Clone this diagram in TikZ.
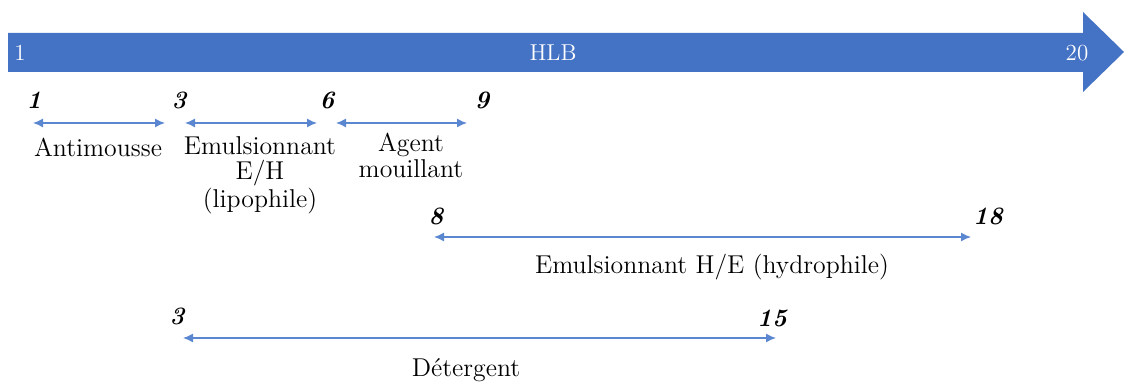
\documentclass[tikz,border=0pt]{standalone}
\usetikzlibrary{arrows.meta}
\definecolor{hlbblue}{HTML}{4472C4}
\definecolor{lineblue}{HTML}{5B87D0}
\begin{document}
\begin{tikzpicture}[x=0.5pt,y=-0.5pt,
  num/.style={font=\fontsize{12.5}{14}\selectfont\bfseries\itshape, inner sep=0pt},
  inlab/.style={font=\fontsize{11.5}{13}\selectfont, text=white, inner sep=0pt},
  lab/.style={font=\fontsize{12.9}{12.8}\selectfont, inner sep=0pt, align=center},
  hlbrange/.style={draw=lineblue, line width=0.7pt, {Latex[length=5pt,width=4.5pt]}-{Latex[length=5pt,width=4.5pt]}}]
\useasboundingbox (0,0) rectangle (1124,383);
% big arrow
\fill[hlbblue] (8,33) -- (1083,33) -- (1083,12) -- (1124,52) -- (1083,92) -- (1083,72) -- (8,72) -- cycle;
\node[inlab] (a1) at (20,53) {1};
\node[inlab] (ahlb) at (553,53) {HLB};
\node[inlab] (a20) at (1077,53) {20};
% top ranges
\node[num] (n1) at (34,100) {1};
\node[num] (n3) at (179,100) {3};
\node[num] (n6) at (327,100) {6};
\node[num] (n9) at (482,100) {9};
\coordinate (r1a) at (33,123); \coordinate (r1b) at (165,123);
\coordinate (r2a) at (185,123); \coordinate (r2b) at (317,123);
\coordinate (r3a) at (336,123); \coordinate (r3b) at (467,123);
\draw[hlbrange] (r1a) -- (r1b);
\draw[hlbrange] (r2a) -- (r2b);
\draw[hlbrange] (r3a) -- (r3b);
\node[lab] (l1) at (98,147) {Antimousse};
\node[lab, anchor=north] (l2) at (260,136) {Emulsionnant\\E/H\\(lipophile)};
\node[lab, anchor=north] (l3) at (411,133) {Agent\\mouillant};
% H/E
\node[num] (n8) at (436,216) {8};
\node[num] (n18) at (988,216) {18};
\coordinate (r4a) at (434,237); \coordinate (r4b) at (971,237);
\draw[hlbrange] (r4a) -- (r4b);
\node[lab] (l4) at (712,267) {Emulsionnant H/E (hydrophile)};
% detergent
\node[num] (m3) at (177,316) {3};
\node[num] (m15) at (772,318) {15};
\coordinate (r5a) at (183,338); \coordinate (r5b) at (776,338);
\draw[hlbrange] (r5a) -- (r5b);
\node[lab] (l5) at (466,370) {Détergent};
\end{tikzpicture}
\end{document}
